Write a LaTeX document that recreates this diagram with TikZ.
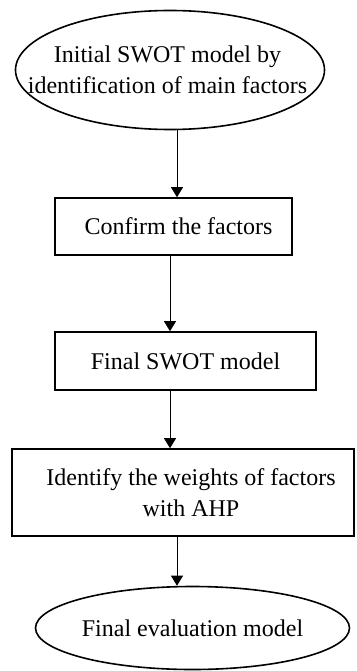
\documentclass[tikz,border=0pt]{standalone}
\usepackage{fontspec}
\setmainfont{Liberation Serif}
\usetikzlibrary{shapes.geometric,arrows.meta}
\begin{document}
\begin{tikzpicture}[x=1pt,y=-1pt,
  every node/.style={font=\fontsize{24}{31}\selectfont, inner sep=0pt, align=center},
  oval/.style={draw, line width=1.6pt, ellipse},
  box/.style={draw, line width=1.6pt, rectangle},
  arr/.style={line width=0.9pt, -{Triangle[length=10pt,width=12pt]}}]
\useasboundingbox (0,0) rectangle (356,671);
\node[oval, minimum width=309pt, minimum height=119pt,
  label={[xshift=-2.5pt]center:Initial SWOT model by\\identification of main factors}] (e1) at (170,70) {};
\node[box, minimum width=237pt, minimum height=57pt] (b1) at (173.5,226.5)
  {\hspace*{10pt}Confirm the factors};
\node[box, minimum width=261pt, minimum height=58pt] (b2) at (185.5,361)
  {Final SWOT model};
\node[box, minimum width=342pt, minimum height=87pt] (b3) at (183,492.5)
  {\hspace*{16pt}Identify the weights of factors\\\hspace*{16pt}with AHP};
\node[oval, minimum width=314pt, minimum height=83pt,
  label={center:Final evaluation model}] (e2) at (192.5,628) {};
\draw[arr] (e1.south -| 177,0) -- (b1.north -| 177,0);
\draw[arr] (b1.south -| 170,0) -- (b2.north -| 170,0);
\draw[arr] (b2.south -| 170,0) -- (b3.north -| 170,0);
\draw[arr] (b3.south -| 177,0) -- (e2.north -| 177,0);
\end{tikzpicture}
\end{document}
